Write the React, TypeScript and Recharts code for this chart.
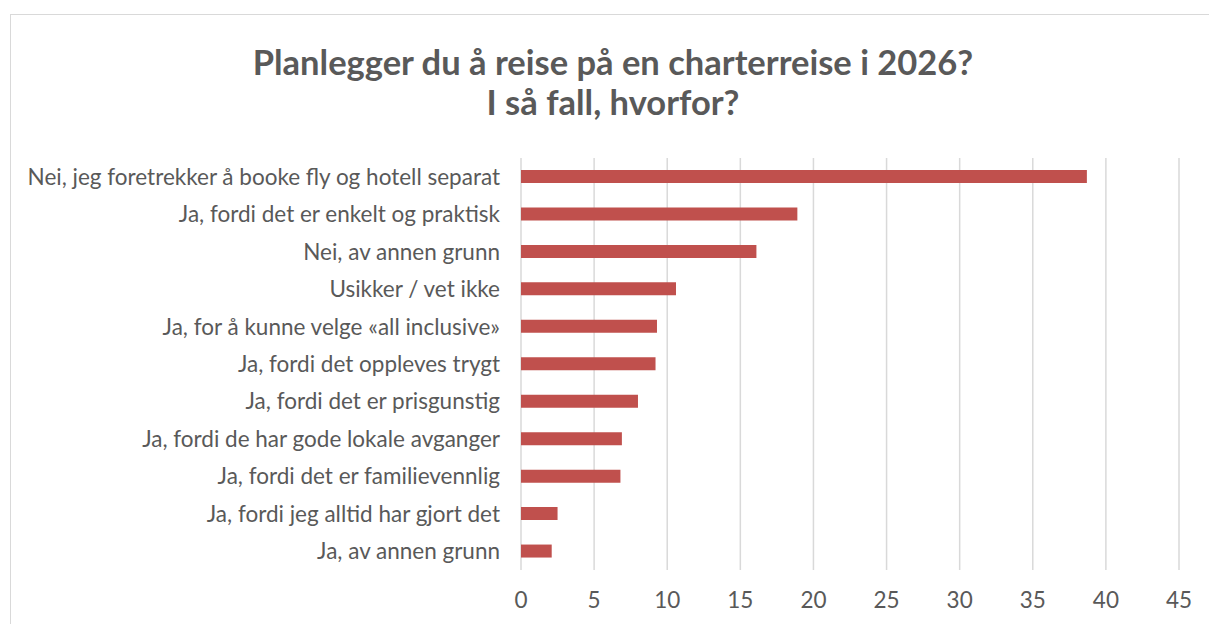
import React from "react";
import { BarChart, Bar, XAxis, YAxis, CartesianGrid } from "recharts";

const categories = [
  "Nei, jeg foretrekker å booke fly og hotell separat",
  "Ja, fordi det er enkelt og praktisk",
  "Nei, av annen grunn",
  "Usikker / vet ikke",
  "Ja, for å kunne velge «all inclusive»",
  "Ja, fordi det oppleves trygt",
  "Ja, fordi det er prisgunstig",
  "Ja, fordi de har gode lokale avganger",
  "Ja, fordi det er familievennlig",
  "Ja, fordi jeg alltid har gjort det",
  "Ja, av annen grunn",
];

const values = [38.7, 18.9, 16.1, 10.6, 9.3, 9.2, 8.0, 6.9, 6.8, 2.5, 2.1];

const xTicks = [0, 5, 10, 15, 20, 25, 30, 35, 40, 45];

const titleLines = ["Planlegger du å reise på en charterreise i 2026?", "I så fall, hvorfor?"];

const data = categories.map((name, i) => ({ name, value: values[i] }));

const FONT = "Lato, 'Open Sans', sans-serif";
const TEXT_COLOR = "#595959";

export default function App() {
  return (
    <div style={{ position: "absolute", left: 0, top: 0, width: 1209, height: 624, background: "#fff", overflow: "hidden" }}>
      <div
        style={{
          position: "absolute",
          left: 10,
          top: 14,
          width: 1300,
          height: 700,
          border: "1px solid #d9d9d9",
        }}
      />
      <div
        style={{
          position: "absolute",
          left: 0,
          top: 42,
          width: 1226,
          textAlign: "center",
          fontFamily: FONT,
          fontWeight: 700,
          fontSize: 34.5,
          lineHeight: "40px",
          color: TEXT_COLOR,
        }}
      >
        {titleLines.map((t) => (
          <div key={t}>{t}</div>
        ))}
      </div>
      <div style={{ position: "absolute", left: 0, top: 0 }}>
        <BarChart
          width={1209}
          height={624}
          data={data}
          layout="vertical"
          margin={{ top: 158, right: 30, bottom: 24, left: 0 }}
          barCategoryGap={0}
        >
          <CartesianGrid horizontal={false} stroke="#d9d9d9" strokeWidth={1.5} />
          <XAxis
            type="number"
            domain={[0, 45]}
            ticks={xTicks}
            height={30}
            axisLine={false}
            tickLine={false}
            tickSize={0}
            tickMargin={22}
            tick={{ fill: TEXT_COLOR, fontSize: 22.5, fontFamily: FONT }}
          />
          <YAxis
            type="category"
            dataKey="name"
            width={521}
            axisLine={false}
            tickLine={false}
            tickSize={0}
            tickMargin={21}
            interval={0}
            tick={{ fill: TEXT_COLOR, fontSize: 22.5, fontFamily: FONT }}
          />
          <Bar dataKey="value" fill="#C0504D" barSize={13} isAnimationActive={false} />
        </BarChart>
      </div>
    </div>
  );
}
